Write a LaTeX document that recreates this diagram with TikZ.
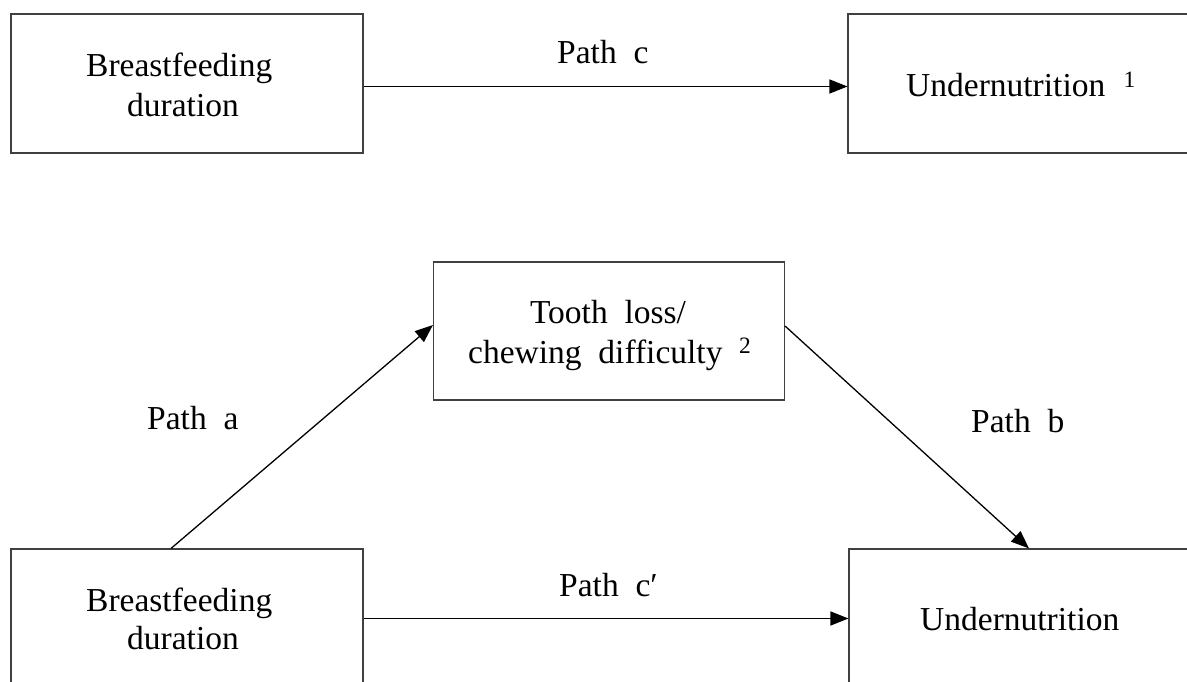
\documentclass[tikz,border=0pt]{standalone}
\usepackage{fontspec}
\setmainfont{Liberation Serif}
\usetikzlibrary{arrows.meta}
\begin{document}
\begin{tikzpicture}[x=1pt,y=-1pt,
  box/.style={draw=black!75, line width=1.1pt, minimum width=352pt, minimum height=139pt, inner sep=0pt},
  lbl/.style={font=\fontsize{33.5}{38}\selectfont, inner sep=0pt, anchor=base west},
  arr/.style={line width=1.3pt, -{Triangle[length=18pt,width=14pt]}}]
\useasboundingbox (0,0) rectangle (1187,682);
% boxes
\node[box] (tl) at (187,83.5) {};
\node[box] (tr) at (1024,83.5) {};
\node[box, minimum width=351pt, minimum height=138pt] (mid) at (609,331) {};
\node[box] (bl) at (187,618.5) {};
\node[box] (br) at (1025,618.5) {};
% texts
\node[lbl] (tla) at (86,77) {Breastfeeding};
\node[lbl] (tlb) at (127,117) {duration};
\node[lbl] (trt) at (906,97) {Undernutrition\hspace{0.55em}\textsuperscript{1}};
\node[lbl, anchor=base] (mida) at (608,323) {Tooth\ \ loss/};
\node[lbl] (midb) at (468,363) {chewing\ \ difficulty\ \ \textsuperscript{2}};
\node[lbl] (bla) at (86,611) {Breastfeeding};
\node[lbl] (blb) at (127,649) {duration};
\node[lbl] (brt) at (920,630) {Undernutrition};
\node[lbl] (pc) at (557,64) {Path\ \ c};
\node[lbl] (pa) at (147,429) {Path\ \ a};
\node[lbl] (pb) at (971,432) {Path\ \ b};
\node[lbl] (pcp) at (559,596) {Path\ \ c′};
% connectors
\draw[arr] ([yshift=-3pt]tl.east) -- ([yshift=-3pt]tr.west);
\draw[arr] (bl.east) -- (br.west);
\draw[arr] ([xshift=-16pt]bl.north) -- ([yshift=6pt]mid.west);
\draw[arr] ([yshift=5pt]mid.east) -- ([xshift=4pt]br.north);
\end{tikzpicture}
\end{document}
